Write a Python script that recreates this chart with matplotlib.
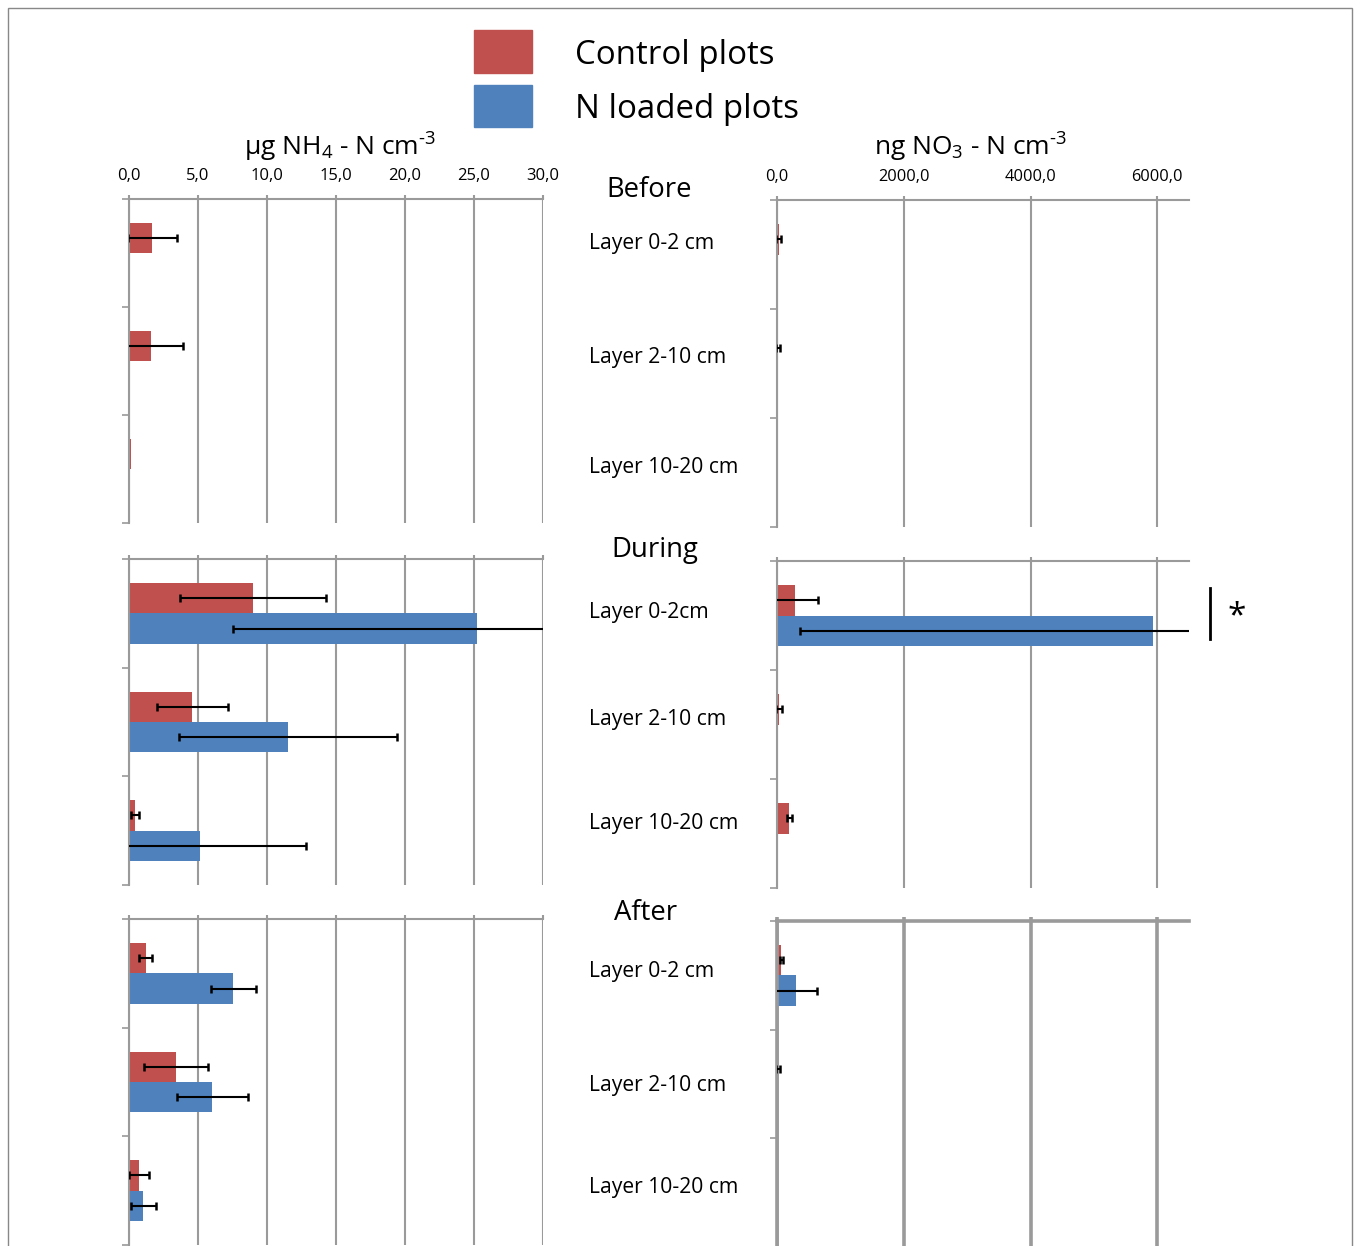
import matplotlib
matplotlib.use("Agg")
import matplotlib.pyplot as plt
import matplotlib.patches as patches
from matplotlib.lines import Line2D
import numpy as np

plt.rcParams['font.family'] = ['Open Sans', 'DejaVu Sans']
plt.rcParams['mathtext.fontset'] = 'custom'
plt.rcParams['mathtext.rm'] = 'Open Sans'
plt.rcParams['mathtext.it'] = 'Open Sans'
plt.rcParams['mathtext.default'] = 'rm'

# Sampling periods and soil layers
periods = ['Before', 'During', 'After']
layer_labels = [
    ['Layer 0-2 cm', 'Layer 2-10 cm', 'Layer 10-20 cm'],
    ['Layer 0-2cm', 'Layer 2-10 cm', 'Layer 10-20 cm'],
    ['Layer 0-2 cm', 'Layer 2-10 cm', 'Layer 10-20 cm'],
]

# NH4-N (ug/cm3), rows = periods, columns = layers
nh4_ctrl = [[1.7, 1.6, 0.12], [9.0, 4.6, 0.45], [1.2, 3.4, 0.75]]
nh4_ctrl_err = [[1.75, 2.3, 0.0], [5.3, 2.6, 0.27], [0.5, 2.3, 0.72]]
nh4_load = [[0.06, 0.05, 0.05], [25.2, 11.5, 5.15], [7.55, 6.05, 1.05]]
nh4_load_err = [[0.0, 0.0, 0.0], [17.7, 7.9, 7.7], [1.63, 2.57, 0.92]]

# NO3-N (ng/cm3)
no3_ctrl = [[25, 20, 15], [290, 30, 195], [70, 15, 5]]
no3_ctrl_err = [[45, 30, 0], [350, 50, 40], [30, 30, 0]]
no3_load = [[20, 20, 20], [5930, 15, 5], [300, 5, 5]]
no3_load_err = [[0, 0, 0], [5575, 0, 0], [330, 0, 0]]

nh4_ticks = [0, 5, 10, 15, 20, 25, 30]
no3_ticks = [0, 2000, 4000, 6000]

RED = '#C0504D'
BLUE = '#4F81BD'
GRID = '#9a9a9a'

W, H = 1360, 1246
fig = plt.figure(figsize=(W / 100, H / 100), dpi=100)


def px_axes(left, top, right, bottom):
    return fig.add_axes([left / W, 1 - bottom / H, (right - left) / W, (bottom - top) / H])


def draw_panel(ax, ctrl, ctrl_err, load, load_err, xmax, ticks, show_labels, lw=1.5, fs=12):
    y = np.arange(3)
    h = 0.28
    ax.barh(y - h / 2, ctrl, height=h, color=RED, zorder=2)
    ax.barh(y + h / 2, load, height=h, color=BLUE, zorder=2)
    for vals, errs, off in [(ctrl, ctrl_err, -h / 2), (load, load_err, h / 2)]:
        vals = np.array(vals, dtype=float)
        errs = np.array(errs, dtype=float)
        m = errs > 0
        if m.any():
            ax.errorbar(vals[m], (y + off)[m], xerr=errs[m], fmt='none', ecolor='black',
                        elinewidth=1.5, capsize=3, capthick=1.8, zorder=3)
    ax.set_xlim(0, xmax)
    ax.set_ylim(2.5, -0.5)
    ax.set_yticks([-0.5, 0.5, 1.5, 2.5])
    ax.set_yticklabels([])
    ax.xaxis.tick_top()
    ax.set_xticks(ticks)
    ax.set_xticklabels([f'{t:.1f}'.replace('.', ',') for t in ticks], fontsize=fs)
    ax.tick_params(axis='x', length=3, width=lw, color=GRID, pad=8, labeltop=show_labels)
    ax.tick_params(axis='y', length=5, width=1.2, color=GRID, direction='out')
    ax.xaxis.grid(True, color=GRID, lw=lw)
    ax.set_axisbelow(True)
    for s in ['right', 'bottom']:
        ax.spines[s].set_visible(False)
    for s in ['left', 'top']:
        ax.spines[s].set_color(GRID)
        ax.spines[s].set_linewidth(lw)
    ax.patch.set_alpha(0)


# panel extents in pixels: (top, bottom) for left and right columns
left_rows = [(199, 523), (559, 885), (919, 1245)]
right_rows = [(200, 527), (561, 888), (921, 1247)]

for i in range(3):
    axl = px_axes(129, left_rows[i][0], 543, left_rows[i][1])
    draw_panel(axl, nh4_ctrl[i], nh4_ctrl_err[i], nh4_load[i], nh4_load_err[i],
               30, nh4_ticks, i == 0, fs=12)
    axr = px_axes(777, right_rows[i][0], 1189, right_rows[i][1])
    draw_panel(axr, no3_ctrl[i], no3_ctrl_err[i], no3_load[i], no3_load_err[i],
               6500, no3_ticks, i == 0, lw=2.6 if i == 2 else 1.5, fs=11.8)


def ftext(x, y, s, **kw):
    fig.text(x / W, 1 - y / H, s, **kw)


# period headings and layer names in the middle column
period_pos = [(649, 190), (655, 550), (646, 913)]
layer_y = [[244, 358, 467], [613, 719, 824], [972, 1085, 1188]]
for i, p in enumerate(periods):
    ftext(period_pos[i][0], period_pos[i][1], p, ha='center', va='center', fontsize=19.8)
    for j, lab in enumerate(layer_labels[i]):
        ftext(589, layer_y[i][j], lab, ha='left', va='center', fontsize=15.2)

# axis titles
ftext(340, 147, r'µg NH$_4$ - N cm$^{\text{-3}}$', ha='center', va='center', fontsize=19)
ftext(970, 147, r'ng NO$_3$ - N cm$^{\text{-3}}$', ha='center', va='center', fontsize=19)

# legend
fig.add_artist(patches.Rectangle((474 / W, 1 - 73 / H), 58 / W, 43 / H,
                                 transform=fig.transFigure, color=RED))
fig.add_artist(patches.Rectangle((474 / W, 1 - 127 / H), 58 / W, 42 / H,
                                 transform=fig.transFigure, color=BLUE))
ftext(575, 55, 'Control plots', ha='left', va='center', fontsize=23.8)
ftext(575, 110, 'N loaded plots', ha='left', va='center', fontsize=23.8)

# significance marker
fig.add_artist(Line2D([1210 / W, 1210 / W], [1 - 588 / H, 1 - 639 / H],
                      transform=fig.transFigure, color='black', lw=2))
ftext(1237, 617, '*', ha='center', va='center', fontsize=24)

# outer frame
fig.add_artist(patches.Rectangle((8 / W, -0.01), 1344 / W, 1 - 8 / H + 0.01,
                                 transform=fig.transFigure, fill=False,
                                 edgecolor='#888888', lw=1))

fig.savefig('out.png', dpi=100)
